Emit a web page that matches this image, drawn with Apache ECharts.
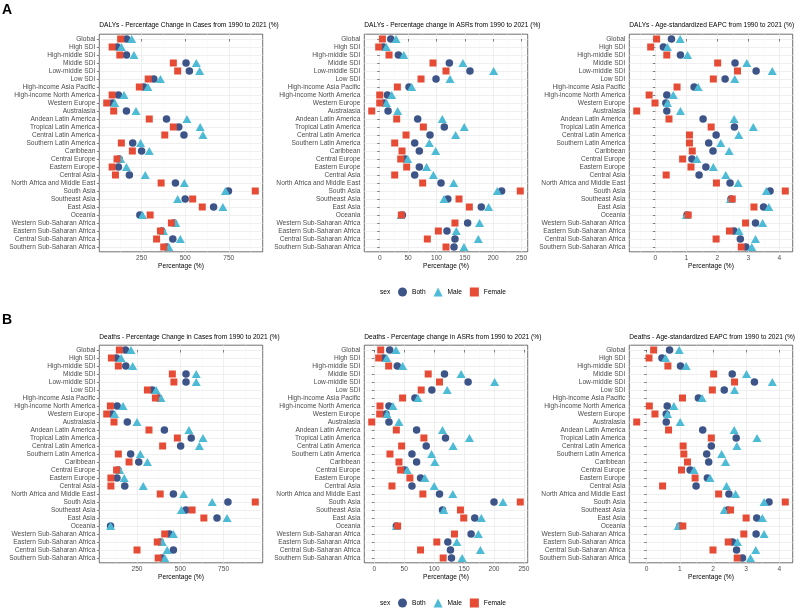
<!DOCTYPE html>
<html>
<head>
<meta charset="utf-8">
<script src="https://cdn.jsdelivr.net/npm/echarts@6/dist/echarts.min.js"></script>
<style>
html, body { margin: 0; background: #fff; }
#chart { width: 800px; height: 608px; }
</style>
</head>
<body>
<div id="chart"></div>
<script>
var regions = ['Global', 'High SDI', 'High-middle SDI', 'Middle SDI', 'Low-middle SDI', 'Low SDI',
    'High-income Asia Pacific', 'High-income North America', 'Western Europe', 'Australasia',
    'Andean Latin America', 'Tropical Latin America', 'Central Latin America', 'Southern Latin America',
    'Caribbean', 'Central Europe', 'Eastern Europe', 'Central Asia', 'North Africa and Middle East',
    'South Asia', 'Southeast Asia', 'East Asia', 'Oceania', 'Western Sub-Saharan Africa',
    'Eastern Sub-Saharan Africa', 'Central Sub-Saharan Africa', 'Southern Sub-Saharan Africa'];

// DALYs - percentage change in cases
var dalyCasesBoth   = [164, 111, 163, 505, 524, 320, 263, 117, 83, 163, 393, 463, 493, 199, 250, 121, 117, 180, 444, 748, 500, 663, 240, 434, 366, 429, 393];
var dalyCasesMale   = [193, 134, 206, 564, 583, 358, 286, 149, 96, 218, 510, 586, 602, 244, 294, 130, 163, 271, 495, 731, 457, 716, 255, 446, 375, 472, 406];
var dalyCasesFemale = [130, 81, 125, 432, 457, 288, 237, 81, 50, 90, 294, 432, 383, 134, 197, 109, 81, 100, 362, 902, 543, 598, 299, 421, 358, 336, 377];

// DALYs - percentage change in ASRs
var dalyAsrBoth   = [19.4, 6.5, 32.9, 122.7, 159, 99.2, 51.6, 13.5, 7.6, 14.7, 66.9, 113.8, 88.6, 61.6, 69.8, 44.6, 69.8, 61.6, 108, 214.8, 120, 179, 39.9, 154.9, 118.5, 132.6, 130.9];
var dalyAsrMale   = [28.8, 11.7, 42.3, 146.7, 200.7, 123.8, 56.3, 21.1, 11.7, 31.7, 110.3, 149, 133.8, 87.4, 98.6, 49.3, 82.7, 94.5, 130.3, 207.2, 113.3, 191.9, 37.6, 176, 135, 173.7, 148.5];
var dalyAsrFemale = [4.7, -1.8, 16.4, 93.9, 116.8, 72.8, 31.1, 0, 0, -14.1, 29.9, 76.9, 46.4, 26.4, 39.3, 37, 47.5, 26.4, 75.7, 247.7, 139.7, 157.9, 38.1, 132.6, 103.3, 83.9, 116.8];

// DALYs - age-standardized EAPC
var dalyEapcBoth   = [0.52, 0.26, 0.81, 2.57, 3.25, 2.25, 1.25, 0.37, 0.34, 0.37, 1.54, 2.55, 1.96, 1.72, 1.86, 1.18, 1.63, 1.41, 2.41, 3.70, 2.44, 3.49, 1.02, 3.23, 2.54, 2.74, 2.92];
var dalyEapcMale   = [0.80, 0.39, 1.04, 2.95, 3.77, 2.56, 1.38, 0.58, 0.39, 0.81, 2.54, 3.16, 2.69, 2.11, 2.38, 1.34, 1.87, 2.27, 2.67, 3.58, 2.42, 3.66, 1.00, 3.46, 2.70, 3.23, 3.11];
var dalyEapcFemale = [0.04, -0.15, 0.37, 2.01, 2.65, 1.87, 0.70, -0.20, -0.01, -0.60, 0.44, 1.80, 1.10, 1.10, 1.19, 0.88, 1.15, 0.35, 1.97, 4.19, 2.48, 3.18, 1.06, 2.91, 2.39, 1.96, 2.77];

// Deaths - percentage change in cases
var deathCasesBoth   = [183, 131, 185, 533, 533, 338, 375, 135, 106, 194, 408, 563, 502, 213, 260, 140, 134, 179, 460, 775, 532, 712, 97, 437, 385, 460, 395];
var deathCasesMale   = [215, 158, 225, 592, 592, 360, 388, 169, 121, 250, 550, 631, 610, 269, 310, 150, 176, 286, 519, 684, 506, 770, 97, 460, 396, 424, 410];
var deathCasesFemale = [148, 102, 142, 454, 463, 310, 356, 96, 75, 117, 319, 483, 398, 142, 204, 132, 99, 99, 384, 933, 568, 636, null, 410, 367, 250, 372];

// Deaths - percentage change in ASRs
var deathAsrBoth   = [25.6, 15.6, 38.3, 117.2, 156.7, 96.1, 67.8, 24.4, 19.4, 24.4, 70.6, 118.9, 86.7, 62.8, 70.6, 50.6, 77.2, 62.8, 108.9, 200, 113.9, 167.8, 36.7, 161.7, 122.8, 127.2, 128.9];
var deathAsrMale   = [36.1, 20.6, 47.2, 145, 201, 121.7, 72.8, 31.1, 21.1, 41.1, 113.9, 158.9, 131.7, 95.6, 101.1, 55, 84.4, 100, 131.1, 215, 116.1, 178.9, 36.7, 173.9, 137.8, 177.2, 146.7];
var deathAsrFemale = [10.6, 7.2, 23.9, 90, 108.9, 78.3, 47.2, 9.4, 8.9, -4.4, 36.7, 82.8, 45.6, 26.1, 41.1, 43.9, 59.4, 29.4, 81.1, 243.9, 143.9, 149.4, 38.9, 133.9, 104.4, 77.2, 115];

// Deaths - age-standardized EAPC
var deathEapcBoth   = [0.69, 0.46, 1.02, 2.58, 3.25, 2.34, 1.56, 0.62, 0.59, 0.59, 1.69, 2.70, 1.95, 1.81, 1.87, 1.31, 1.83, 1.49, 2.48, 3.69, 2.45, 3.32, 1.00, 3.30, 2.59, 2.71, 2.89];
var deathEapcMale   = [0.98, 0.57, 1.19, 3.01, 3.79, 2.65, 1.67, 0.82, 0.63, 1.01, 2.64, 3.33, 2.72, 2.26, 2.38, 1.43, 1.91, 2.41, 2.68, 3.54, 2.34, 3.49, 0.95, 3.54, 2.74, 3.29, 3.13];
var deathEapcFemale = [0.21, 0.07, 0.64, 2.02, 2.65, 1.98, 1.08, 0.08, 0.25, -0.30, 0.66, 1.95, 1.10, 1.12, 1.23, 1.05, 1.46, 0.48, 2.17, 4.18, 2.53, 3.00, 1.09, 2.93, 2.46, 2.00, 2.73];

// tick labels
var casesTicks = [250, 500, 750];
var casesMinor = [125, 375, 625, 875];
var asrTicks = [0, 50, 100, 150, 200, 250];
var asrMinor = [-25, 25, 75, 125, 175, 225];
var eapcTicks = [0, 1, 2, 3, 4];
var eapcMinor = [-0.5, 0.5, 1.5, 2.5, 3.5];

var FONT = 'Liberation Sans, Arial, Helvetica, sans-serif';
var colBoth = '#3C5488', colMale = '#4DBBD5', colFemale = '#E64B35';
var panelW = 163.4, panelH = 217.6;
var lefts = [99.3, 364.3, 629.3];
var rowTops = [34.2, 345.2];
var titleYs = [25, 337.3];

var panels = [
    {title: 'DALYs - Percentage Change in Cases from 1990 to 2021 (%)', both: dalyCasesBoth, male: dalyCasesMale, female: dalyCasesFemale, major: casesTicks, minor: casesMinor},
    {title: 'DALYs - Percentage change in ASRs from 1990 to 2021 (%)', both: dalyAsrBoth, male: dalyAsrMale, female: dalyAsrFemale, major: asrTicks, minor: asrMinor},
    {title: 'DALYs - Age-standardized EAPC from 1990 to 2021 (%)', both: dalyEapcBoth, male: dalyEapcMale, female: dalyEapcFemale, major: eapcTicks, minor: eapcMinor},
    {title: 'Deaths - Percentage Change in Cases from 1990 to 2021 (%)', both: deathCasesBoth, male: deathCasesMale, female: deathCasesFemale, major: casesTicks, minor: casesMinor},
    {title: 'Deaths - Percentage change in ASRs from 1990 to 2021 (%)', both: deathAsrBoth, male: deathAsrMale, female: deathAsrFemale, major: asrTicks, minor: asrMinor},
    {title: 'Deaths - Age-standardized EAPC from 1990 to 2021 (%)', both: deathEapcBoth, male: deathEapcMale, female: deathEapcFemale, major: eapcTicks, minor: eapcMinor}
];

var rowIdx = regions.map(function (r, j) { return j; });
var grids = [], xAxes = [], yAxes = [], series = [], graphics = [];

panels.forEach(function (p, i) {
    var col = i % 3, row = Math.floor(i / 3);
    // ggplot-style 5% expansion of the data range
    var all = p.both.concat(p.male, p.female).filter(function (v) { return v !== null; });
    var lo = Math.min.apply(null, all), hi = Math.max.apply(null, all);
    var pad = (hi - lo) * 0.05;
    var min = lo - pad, max = hi + pad;
    var minor = p.minor.filter(function (v) { return v > min && v < max; });

    grids.push({
        left: lefts[col], top: rowTops[row], width: panelW, height: panelH,
        show: true, borderColor: '#333333', borderWidth: 0.7,
        containLabel: false, outerBoundsMode: 'none'
    });

    xAxes.push({
        type: 'value', gridIndex: i, position: 'bottom', min: min, max: max,
        axisLine: {show: false},
        axisTick: {show: true, length: 2.5, customValues: p.major, lineStyle: {color: '#333333', width: 0.6}},
        axisLabel: {customValues: p.major, fontSize: 6.6, color: '#4d4d4d', margin: 3, fontFamily: FONT},
        splitLine: {show: true, lineStyle: {color: '#ebebeb', width: 0.8}},
        name: 'Percentage (%)', nameLocation: 'middle', nameGap: 11, nameMoveOverlap: false,
        nameTextStyle: {fontSize: 6.6, color: '#000', fontFamily: FONT}
    });
    xAxes.push({
        type: 'value', gridIndex: i, position: 'top', min: min, max: max,
        axisLine: {show: false},
        axisTick: {show: false, customValues: minor},
        axisLabel: {show: false},
        splitLine: {show: true, lineStyle: {color: '#f4f4f4', width: 0.5}}
    });

    yAxes.push({
        type: 'value', gridIndex: i, inverse: true, min: -0.6, max: 26.6,
        axisLine: {show: false},
        axisTick: {show: true, length: 2.5, customValues: rowIdx, lineStyle: {color: '#333333', width: 0.6}},
        axisLabel: {
            customValues: rowIdx, fontSize: 6.6, color: '#4d4d4d', margin: 4, fontFamily: FONT,
            formatter: function (v) { return regions[v]; }
        },
        splitLine: {show: true, lineStyle: {color: '#ebebeb', width: 0.8}}
    });

    var sets = [
        ['Both', p.both, 'circle', 7.5, colBoth],
        ['Male', p.male, 'triangle', [9, 8], colMale],
        ['Female', p.female, 'rect', 7, colFemale]
    ];
    sets.forEach(function (s, k) {
        series.push({
            type: 'scatter', name: s[0], xAxisIndex: 2 * i, yAxisIndex: i,
            symbol: s[2], symbolSize: s[3], z: 2 + k, silent: true,
            itemStyle: {color: s[4], opacity: 1},
            data: s[1].map(function (v, j) { return v === null ? null : [v, j]; })
                      .filter(function (d) { return d !== null; })
        });
    });

    graphics.push({
        type: 'text', x: lefts[col], y: titleYs[row],
        style: {text: p.title, fontSize: 6.6, fontFamily: FONT, fill: '#000', verticalAlign: 'middle'}
    });
});

graphics.push({type: 'text', x: 2, y: 10, style: {text: 'A', fontSize: 14, fontWeight: 'bold', fontFamily: FONT, fill: '#000', verticalAlign: 'middle'}});
graphics.push({type: 'text', x: 2, y: 320, style: {text: 'B', fontSize: 14, fontWeight: 'bold', fontFamily: FONT, fill: '#000', verticalAlign: 'middle'}});

var legendYs = [292, 603];
var legends = legendYs.map(function (y) {
    graphics.push({type: 'text', x: 380, y: y, style: {text: 'sex', fontSize: 6.6, fontFamily: FONT, fill: '#000', verticalAlign: 'middle'}});
    return {
        top: y - 4.5, left: 398, orient: 'horizontal', padding: 0,
        itemWidth: 9, itemHeight: 9, itemGap: 8, selectedMode: false,
        textStyle: {fontSize: 6.6, color: '#000', fontFamily: FONT},
        data: [{name: 'Both', icon: 'circle'}, {name: 'Male', icon: 'triangle'}, {name: 'Female', icon: 'rect'}]
    };
});

var chart = echarts.init(document.getElementById('chart'));
chart.setOption({
    animation: false,
    backgroundColor: '#fff',
    textStyle: {fontFamily: FONT},
    legend: legends,
    grid: grids,
    xAxis: xAxes,
    yAxis: yAxes,
    series: series,
    graphic: graphics
});
</script>
</body>
</html>
